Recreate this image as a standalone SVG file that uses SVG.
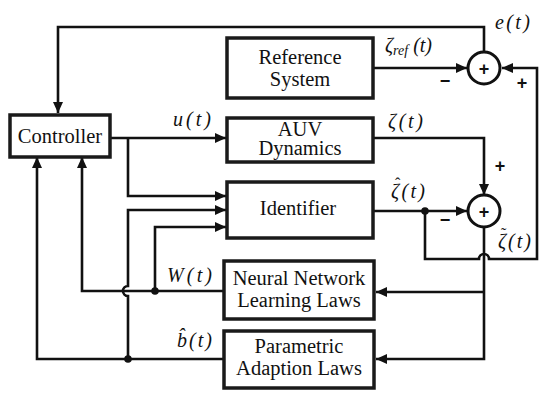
<svg xmlns="http://www.w3.org/2000/svg" width="550" height="404" viewBox="0 0 550 404">
<style>
.box{fill:#fff;stroke:#1a1a1a;stroke-width:3.5}
.lbl{font-family:'Times New Roman','Liberation Serif','Noto Serif','DejaVu Serif',Times,serif;font-size:20.5px;fill:#111;text-anchor:middle}
.math{font-family:'Times New Roman','Liberation Serif','Noto Serif','DejaVu Serif',Times,serif;font-style:italic;font-size:20px;fill:#111}
.acc{font-family:'Liberation Serif','DejaVu Serif',serif;font-size:16px;fill:#111}
.sign{font-family:'Liberation Sans',Arial,sans-serif;font-weight:bold;font-size:18px;fill:#111;text-anchor:middle}
.ln{fill:none;stroke:#111;stroke-width:2.6}
.sum{fill:#fff;stroke:#111;stroke-width:3}
.dot{fill:#111}
</style>
<defs>
<marker id="ah" markerUnits="userSpaceOnUse" markerWidth="12" markerHeight="10" refX="11" refY="5" orient="auto">
<path d="M0,0 L11,5 L0,10 z" fill="#111"/>
</marker>
</defs>
<g id="connectors">
<path class="ln" d="M484,52 V27 H58 V113" marker-end="url(#ah)"/>
<path class="ln" d="M111,138 H226" marker-end="url(#ah)"/>
<path class="ln" d="M128,138 V196 H226" marker-end="url(#ah)"/>
<path class="ln" d="M128,359 V296 A5,5 0 0 1 128,286 V210 H226" marker-end="url(#ah)"/>
<path class="ln" d="M155,291 V227 H226" marker-end="url(#ah)"/>
<path class="ln" d="M224,291 H82 V157" marker-end="url(#ah)"/>
<path class="ln" d="M224,359 H37 V157" marker-end="url(#ah)"/>
<path class="ln" d="M373,68 H467" marker-end="url(#ah)"/>
<path class="ln" d="M373,138 H484 V195" marker-end="url(#ah)"/>
<path class="ln" d="M373,211 H467" marker-end="url(#ah)"/>
<path class="ln" d="M425,211 V259 H479 A5,5 0 0 1 489,259 H537 V68 H502" marker-end="url(#ah)"/>
<path class="ln" d="M484,227 V359 H376" marker-end="url(#ah)"/>
<path class="ln" d="M484,292 H376" marker-end="url(#ah)"/>
<circle class="dot" cx="425" cy="211" r="3.8"/>
<circle class="dot" cx="155" cy="291" r="3.8"/>
<circle class="dot" cx="128" cy="359" r="3.8"/>
</g>
<g id="controller">
<rect class="box" x="10" y="115" width="100" height="42"/>
<text class="lbl" x="60" y="143" font-size="21.5">Controller</text>
</g>
<g id="reference">
<rect class="box" x="227" y="38" width="146" height="60"/>
<text class="lbl" x="300" y="64">Reference</text>
<text class="lbl" x="300" y="86">System</text>
</g>
<g id="auv">
<rect class="box" x="227" y="118" width="146" height="44"/>
<text class="lbl" x="300" y="136">AUV</text>
<text class="lbl" x="300" y="155">Dynamics</text>
</g>
<g id="identifier">
<rect class="box" x="227" y="182" width="146" height="56"/>
<text class="lbl" x="298" y="215" font-size="21.5">Identifier</text>
</g>
<g id="nn">
<rect class="box" x="224" y="261" width="150" height="58"/>
<text class="lbl" x="299" y="285">Neural Network</text>
<text class="lbl" x="299" y="307">Learning Laws</text>
</g>
<g id="pa">
<rect class="box" x="224" y="331" width="150" height="57"/>
<text class="lbl" x="299" y="353">Parametric</text>
<text class="lbl" x="299" y="375">Adaption Laws</text>
</g>
<g id="sum1">
<circle class="sum" cx="484" cy="68" r="16"/>
<text class="sign" x="484" y="75" font-size="24">+</text>
</g>
<g id="sum2">
<circle class="sum" cx="484" cy="211" r="16"/>
<text class="sign" x="484" y="218" font-size="24">+</text>
</g>
<g id="labels">
<text class="math" x="495" y="29" textLength="35">e(t)</text>
<text class="math" x="385" y="52">ζ<tspan font-size="14" dy="3">ref</tspan><tspan dy="-3"> (t)</tspan></text>
<text class="math" x="388" y="128" textLength="35">ζ(t)</text>
<text class="math" x="391" y="198" textLength="34">ζ(t)</text>
<text class="acc" x="395" y="189">ˆ</text>
<text class="math" x="498" y="248" textLength="33">ζ(t)</text>
<text class="acc" x="501" y="239">˜</text>
<text class="math" x="177" y="347" letter-spacing="2">b̂(t)</text>
<text class="math" x="173" y="126" textLength="38">u(t)</text>
<text class="math" x="167" y="282" textLength="45">W(t)</text>
<text class="sign" x="445" y="87">−</text>
<text class="sign" x="522" y="89">+</text>
<text class="sign" x="500" y="172">+</text>
<text class="sign" x="445" y="226">−</text>
</g>
</svg>
